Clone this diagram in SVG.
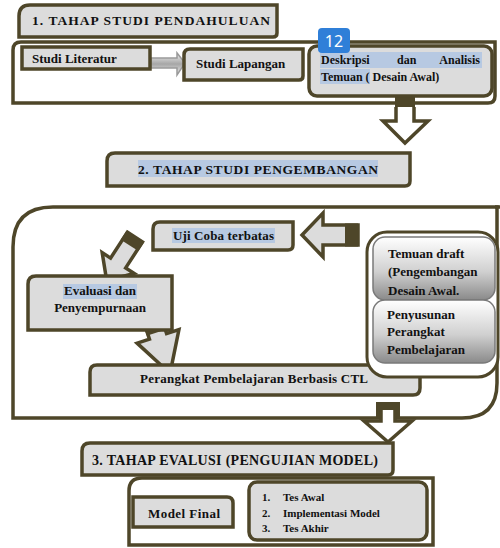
<svg xmlns="http://www.w3.org/2000/svg" width="500" height="548" viewBox="0 0 500 548">
<defs>
<style>
.box{fill:#dcdcdc;stroke:#4e4629;stroke-width:3.5}
.outer{fill:#ffffff;stroke:#4e4629;stroke-width:3.5}
.t{font-family:'Liberation Serif','Times New Roman','DejaVu Serif',serif;font-weight:bold;fill:#111111}
.hl{fill:#b7c9e2}
.arr{fill:#dcdcdc;stroke:#4e4629;stroke-width:3.5;stroke-linejoin:miter}
.stub{fill:#4e4629}
</style>
<linearGradient id="gArrow" x1="0" y1="0" x2="0" y2="1">
<stop offset="0" stop-color="#f2f2f2"/><stop offset="0.5" stop-color="#a6a6a6"/><stop offset="1" stop-color="#eeeeee"/>
</linearGradient>
<linearGradient id="gBox" x1="0" y1="0" x2="0" y2="1">
<stop offset="0" stop-color="#ffffff"/><stop offset="0.55" stop-color="#d0d0d0"/><stop offset="1" stop-color="#8a8a8a"/>
</linearGradient>
</defs>

<!-- Outer frames -->
<g id="stage1-outer"><path class="outer" d="M21,42 H495 V96 Q495,103 488,103 H13 V50 Q13,42 21,42 Z"/></g>
<g id="stage2-outer"><path class="outer" d="M53,207 H497 V383 Q497,418 462,418 H13 V247 Q13,207 53,207 Z"/>
<path d="M495,207 H500" stroke="#4e4629" stroke-width="3.5"/></g>
<g id="stage3-outer"><path class="outer" d="M142,478 H433 V545 H129 V491 Q129,478 142,478 Z"/></g>

<!-- Connectors -->
<g id="connectors">
<path d="M151,58 H177 V53 L185,63 L177,75 V68 H151 Z" fill="url(#gArrow)" stroke="#9a9a9a" stroke-width="1.5"/>
<rect class="stub" x="395" y="92" width="20" height="15"/>
<path d="M396,107 V121 H383 L405,143 L428,121 H414 V107" fill="#ffffff" stroke="#4e4629" stroke-width="3.5"/>
<g transform="translate(358,235) rotate(180)">
<path class="arr" d="M0,-10 H35 V-22 L56,0 L35,22 V10 H0 Z"/>
<rect class="stub" x="0" y="-11.5" width="13" height="23"/></g>
<g transform="translate(135,237) rotate(123)">
<path class="arr" d="M0,-9 H31 V-19 L52,0 L31,19 V9 H0 Z"/>
<rect class="stub" x="0" y="-10.5" width="10" height="21"/></g>
<g transform="translate(154,324) rotate(72)">
<path class="arr" d="M0,-9 H13 V-22 L52,0 L13,22 V9 H0 Z"/>
<rect class="stub" x="0" y="-10.5" width="9" height="21"/></g>
<rect class="stub" x="376" y="402" width="24" height="15"/>
<rect x="381" y="411" width="14" height="8" fill="#ffffff"/>
<path d="M381,410 V421 H364 L388,442 L412,421 H395 V410" fill="#ffffff" stroke="#4e4629" stroke-width="3.5"/>
</g>

<!-- Stage 1 -->
<g id="title1"><path class="box" d="M30,5 H277 V33 Q277,37 273,37 H19 V16 Q19,5 30,5 Z"/>
<text class="t" x="32" y="25" font-size="13.5" textLength="238" lengthAdjust="spacing">1. TAHAP STUDI PENDAHULUAN</text></g>
<g id="studi-literatur"><path class="box" d="M22,47 H150 V69 H22 Z"/>
<text class="t" x="32" y="63" font-size="13">Studi Literatur</text></g>
<g id="studi-lapangan"><path class="box" d="M190,49 H303 V76 Q303,80 299,80 H184 V55 Q184,49 190,49 Z"/>
<text class="t" x="196" y="68" font-size="13">Studi Lapangan</text></g>
<g id="deskripsi"><rect class="box" x="309" y="46" width="183" height="50" rx="8"/>
<rect class="hl" x="320" y="52" width="162" height="16"/>
<rect class="hl" x="320" y="69" width="50" height="15"/>
<text class="t" x="321" y="64" font-size="12">Deskripsi</text>
<text class="t" x="397" y="64" font-size="12">dan</text>
<text class="t" x="480" y="64" font-size="12" text-anchor="end">Analisis</text>
<text class="t" x="321" y="81" font-size="12">Temuan ( Desain Awal)</text></g>
<g id="badge"><rect x="318" y="28" width="32" height="25" rx="4" fill="#2f7fd8"/>
<text x="334" y="47" font-size="16" text-anchor="middle" font-family="'Noto Sans',sans-serif" fill="#ffffff">12</text></g>

<!-- Stage 2 -->
<g id="title2"><path class="box" d="M115,153 H410 V181 Q410,186 405,186 H107 V161 Q107,153 115,153 Z"/>
<rect class="hl" x="138" y="160" width="240" height="17"/>
<text class="t" x="138" y="174" font-size="13.5" textLength="240" lengthAdjust="spacing">2. TAHAP STUDI PENGEMBANGAN</text></g>
<g id="uji-coba"><path class="box" d="M160,222 H293 V245 Q293,250 288,250 H153 V229 Q153,222 160,222 Z"/>
<rect class="hl" x="172" y="228" width="103" height="15"/>
<text class="t" x="173" y="240" font-size="13" textLength="101" lengthAdjust="spacing">Uji Coba terbatas</text></g>
<g id="evaluasi"><path class="box" d="M36,276 H172 V330 H28 V284 Q28,276 36,276 Z"/>
<rect class="hl" x="63" y="284" width="74" height="15"/>
<text class="t" x="100" y="295" font-size="13" text-anchor="middle">Evaluasi dan</text>
<text class="t" x="100" y="312" font-size="13" text-anchor="middle">Penyempurnaan</text></g>
<g id="perangkat"><path class="box" d="M97,365 H420 V388 Q420,395 413,395 H90 V372 Q90,365 97,365 Z"/>
<text class="t" x="140" y="383" font-size="13" textLength="228" lengthAdjust="spacing">Perangkat Pembelajaran Berbasis CTL</text></g>
<g id="right-group"><rect x="367" y="232" width="131" height="145" rx="20" fill="#ffffff" stroke="#4e4629" stroke-width="3"/>
<g id="temuan-draft"><rect x="373" y="237" width="122" height="63" rx="12" fill="url(#gBox)" stroke="#7a7a7a" stroke-width="1.5"/>
<text class="t" x="388" y="258" font-size="13">Temuan draft</text>
<text class="t" x="388" y="276" font-size="13">(Pengembangan</text>
<text class="t" x="388" y="295" font-size="13">Desain Awal.</text></g>
<g id="penyusunan"><rect x="373" y="300" width="122" height="63" rx="12" fill="url(#gBox)" stroke="#7a7a7a" stroke-width="1.5"/>
<text class="t" x="387" y="319" font-size="13">Penyusunan</text>
<text class="t" x="387" y="336" font-size="13">Perangkat</text>
<text class="t" x="387" y="354" font-size="13">Pembelajaran</text></g></g>

<!-- Stage 3 -->
<g id="title3"><path class="box" d="M90,443 H393 V470 Q393,475 388,475 H82 V451 Q82,443 90,443 Z"/>
<text class="t" x="92" y="465" font-size="14" textLength="286" lengthAdjust="spacing">3. TAHAP EVALUSI (PENGUJIAN MODEL)</text></g>
<g id="model-final"><path class="box" d="M133,497 H227 Q233,497 233,503 V527 H133 Z"/>
<text class="t" x="148" y="518" font-size="13" textLength="72" lengthAdjust="spacing">Model Final</text></g>
<g id="tes-list"><rect class="box" x="249" y="482" width="178" height="58" rx="8"/>
<text class="t" x="262" y="501" font-size="11">1.</text><text class="t" x="283" y="501" font-size="11">Tes Awal</text>
<text class="t" x="262" y="517" font-size="11">2.</text><text class="t" x="283" y="517" font-size="11">Implementasi  Model</text>
<text class="t" x="262" y="532" font-size="11">3.</text><text class="t" x="283" y="532" font-size="11">Tes Akhir</text></g>
</svg>
